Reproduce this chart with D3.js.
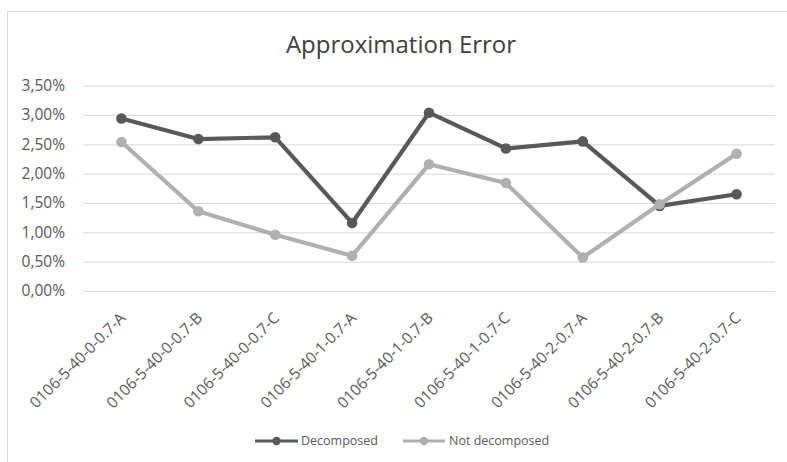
<!DOCTYPE html>
<html>
<head>
<meta charset="utf-8">
<script src="https://cdn.jsdelivr.net/npm/d3@7"></script>
<style>
  html, body { margin: 0; padding: 0; background: #fff; }
  svg { display: block; font-family: "Open Sans", sans-serif; }
</style>
</head>
<body>
<svg id="chart" width="787" height="462"></svg>
<script>
// Category labels along the x axis
const categories = [
  "0106-5-40-0-0.7-A", "0106-5-40-0-0.7-B", "0106-5-40-0-0.7-C",
  "0106-5-40-1-0.7-A", "0106-5-40-1-0.7-B", "0106-5-40-1-0.7-C",
  "0106-5-40-2-0.7-A", "0106-5-40-2-0.7-B", "0106-5-40-2-0.7-C"
];
// Approximation error in percent
const decomposed    = [2.94, 2.59, 2.62, 1.16, 3.04, 2.43, 2.55, 1.45, 1.65];
const notDecomposed = [2.54, 1.36, 0.96, 0.60, 2.16, 1.84, 0.57, 1.48, 2.34];
const yTicks = [0, 0.5, 1, 1.5, 2, 2.5, 3, 3.5];
const seriesNames = ["Decomposed", "Not decomposed"];

const series = [
  { name: seriesNames[0], values: decomposed, color: "#595959" },
  { name: seriesNames[1], values: notDecomposed, color: "#b0b0b0" }
];

const svg = d3.select("#chart");
const textColor = "#595959";
const gridColor = "#d9d9d9";

// Chart frame
svg.append("rect")
  .attr("x", 7.5).attr("y", 11.5)
  .attr("width", 800).attr("height", 480)
  .attr("fill", "#fff")
  .attr("stroke", gridColor).attr("stroke-width", 1);

// Title
svg.append("text")
  .attr("x", 401).attr("y", 53)
  .attr("text-anchor", "middle")
  .attr("font-size", 24)
  .attr("fill", "#404040")
  .text("Approximation Error");

const plot = { left: 83, right: 775, top: 85.7, bottom: 291 };

const x = d3.scaleBand()
  .domain(categories)
  .range([plot.left, plot.right]);

const y = d3.scaleLinear()
  .domain([0, 3.5])
  .range([plot.bottom, plot.top]);

const fmt = v => d3.format(".2f")(v).replace(".", ",") + "%";

// Horizontal gridlines + y labels
const yAxis = d3.axisLeft(y)
  .tickValues(yTicks)
  .tickSize(-(plot.right - plot.left))
  .tickPadding(18)
  .tickFormat(fmt);

const gy = svg.append("g")
  .attr("transform", `translate(${plot.left},0)`)
  .call(yAxis);
gy.select(".domain").remove();
gy.selectAll(".tick line").attr("stroke", gridColor).attr("stroke-width", 1);
gy.selectAll(".tick text")
  .attr("fill", textColor)
  .attr("font-size", 15.5)
  .attr("font-family", "Open Sans, sans-serif");

// X axis labels, rotated
const xAxis = d3.axisBottom(x).tickSize(0).tickPadding(0);
const gx = svg.append("g")
  .attr("transform", `translate(0,${plot.bottom})`)
  .call(xAxis);
gx.select(".domain").remove();
gx.selectAll(".tick text")
  .attr("fill", textColor)
  .attr("font-size", 15.5)
  .attr("font-family", "Open Sans, sans-serif")
  .attr("text-anchor", "end")
  .attr("dy", null)
  .attr("y", 0)
  .attr("transform", "translate(5,28) rotate(-45)");

// Lines and markers
const line = d3.line()
  .x((d, i) => x(categories[i]) + x.bandwidth() / 2)
  .y(d => y(d));

series.forEach(s => {
  const g = svg.append("g");
  g.append("path")
    .datum(s.values)
    .attr("d", line)
    .attr("fill", "none")
    .attr("stroke", s.color)
    .attr("stroke-width", 4.2)
    .attr("stroke-linejoin", "round")
    .attr("stroke-linecap", "round");
  g.selectAll("circle")
    .data(s.values)
    .join("circle")
    .attr("cx", (d, i) => x(categories[i]) + x.bandwidth() / 2)
    .attr("cy", d => y(d))
    .attr("r", 5.3)
    .attr("fill", s.color);
});

// Legend
const legendY = 441;
const legendItems = [
  { x0: 255, x1: 298, tx: 301 },
  { x0: 403, x1: 445, tx: 449 }
];
series.forEach((s, i) => {
  const it = legendItems[i];
  const g = svg.append("g");
  g.append("line")
    .attr("x1", it.x0).attr("x2", it.x1)
    .attr("y1", legendY).attr("y2", legendY)
    .attr("stroke", s.color).attr("stroke-width", 3);
  g.append("circle")
    .attr("cx", (it.x0 + it.x1) / 2).attr("cy", legendY)
    .attr("r", 4.2).attr("fill", s.color);
  g.append("text")
    .attr("x", it.tx).attr("y", legendY)
    .attr("dy", "0.35em")
    .attr("font-size", 12.5)
    .attr("fill", textColor)
    .text(s.name);
});
</script>
</body>
</html>
